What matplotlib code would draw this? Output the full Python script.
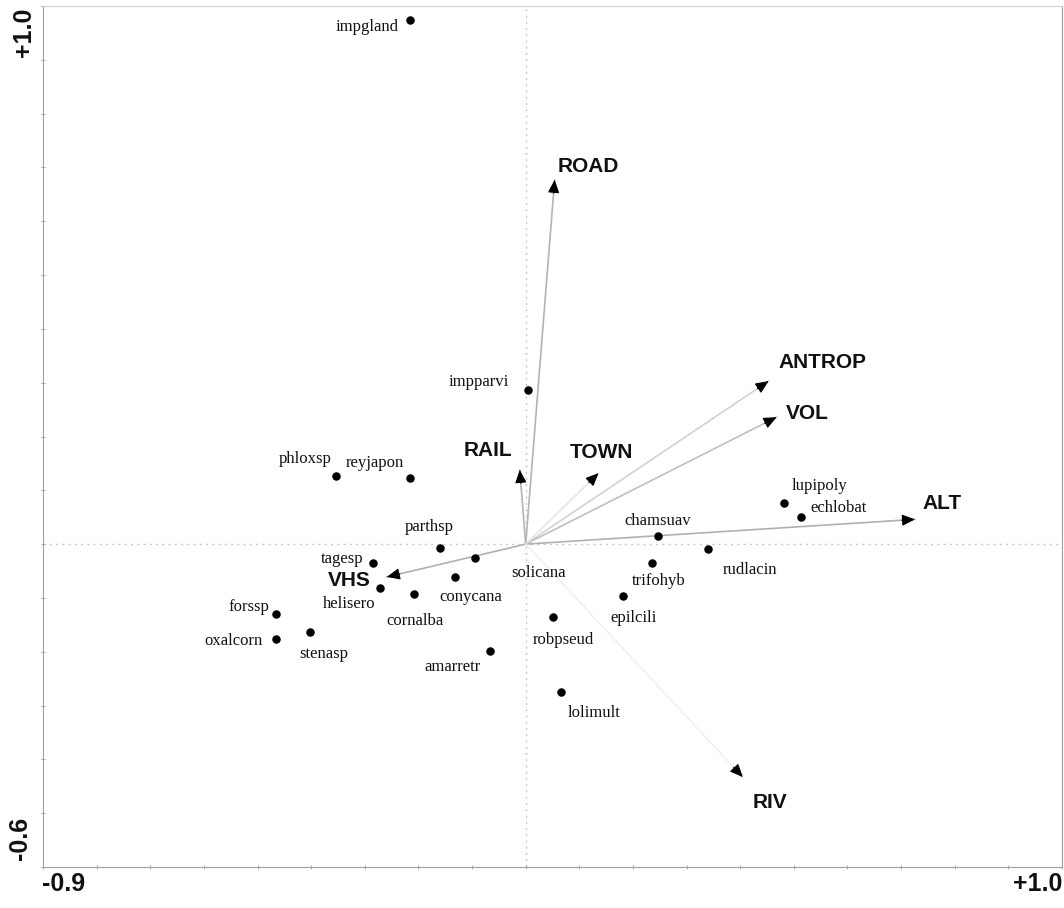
import numpy as np
import matplotlib.pyplot as plt

# species scores (axis 1, axis 2)
species = ['impgland', 'impparvi', 'phloxsp', 'reyjapon', 'lupipoly', 'echlobat',
           'chamsuav', 'rudlacin', 'trifohyb', 'epilcili', 'robpseud', 'lolimult',
           'amarretr', 'solicana', 'conycana', 'parthsp', 'tagesp', 'helisero',
           'cornalba', 'forssp', 'oxalcorn', 'stenasp']
sp_x = [-0.215, 0.004, -0.354, -0.216, 0.481, 0.513,
        0.246, 0.340, 0.235, 0.181, 0.050, 0.065,
        -0.067, -0.095, -0.131, -0.159, -0.285, -0.271,
        -0.209, -0.466, -0.465, -0.403]
sp_y = [0.974, 0.286, 0.126, 0.123, 0.076, 0.050,
        0.015, -0.009, -0.035, -0.097, -0.136, -0.275,
        -0.199, -0.026, -0.061, -0.007, -0.035, -0.082,
        -0.093, -0.130, -0.177, -0.164]

# environmental variables (arrow tips)
env = ['ROAD', 'ANTROP', 'VOL', 'ALT', 'TOWN', 'RAIL', 'VHS', 'RIV']
env_x = [0.054, 0.453, 0.468, 0.726, 0.136, -0.011, -0.259, 0.405]
env_y = [0.677, 0.303, 0.236, 0.046, 0.132, 0.138, -0.061, -0.433]

# label offsets in pixels (layout only)
sp_off = {
    'impgland': (-43, -7), 'impparvi': (-49, 8), 'phloxsp': (-31, 17),
    'reyjapon': (-35, 15), 'lupipoly': (36, 17), 'echlobat': (38, 9),
    'chamsuav': (0, 15), 'rudlacin': (42, -21), 'trifohyb': (7, -18),
    'epilcili': (11, -22), 'robpseud': (11, -23), 'lolimult': (34, -21),
    'amarretr': (-37, -16), 'solicana': (64, -15), 'conycana': (15, -20),
    'parthsp': (-11, 21), 'tagesp': (-31, 4), 'helisero': (-31, -16),
    'cornalba': (1, -27), 'forssp': (-27, 7), 'oxalcorn': (-43, -2),
    'stenasp': (14, -22),
}
env_off = {
    'ROAD': (34, 13), 'ANTROP': (54, 19), 'VOL': (31, 4), 'ALT': (27, 16),
    'TOWN': (3, 21), 'RAIL': (-32, 19), 'VHS': (-37, -4), 'RIV': (27, -25),
}
env_col = {
    'ROAD': '#b4b4b4', 'ANTROP': '#d2d2d2', 'VOL': '#c0c0c0', 'ALT': '#b0b0b0',
    'TOWN': '#e6e6e6', 'RAIL': '#b4b4b4', 'VHS': '#b0b0b0', 'RIV': '#f0f0f0',
}

fig = plt.figure(figsize=(10.64, 9.08), dpi=100)
ax = fig.add_axes([43 / 1064, 1 - 867 / 908, 1019 / 1064, 861 / 908])
ax.set_xlim(-0.9, 1.0)
ax.set_ylim(-0.6, 1.0)

# zero lines
ax.axhline(0, color='#c8c8c8', lw=1, ls=(0, (1.5, 3)), zorder=0)
ax.axvline(0, color='#c8c8c8', lw=1, ls=(0, (1.5, 3)), zorder=0)

# arrows
for name, x, y in zip(env, env_x, env_y):
    ax.plot([0, x], [0, y], color=env_col[name], lw=1.2, zorder=1)
    L = np.hypot(x, y)
    back = 0.025 / L
    ax.annotate('', xy=(x, y), xytext=(x * (1 - back), y * (1 - back)),
                arrowprops=dict(arrowstyle='-|>,head_length=0.8,head_width=0.35',
                                color='black', lw=0.8, shrinkA=0, shrinkB=0),
                zorder=3)
    dx, dy = env_off[name]
    ax.annotate(name, xy=(x, y), xytext=(dx, dy), textcoords='offset pixels',
                ha='center', va='center', fontsize=15, fontweight='bold',
                family='Liberation Sans', color='#111111')

# species points
ax.scatter(sp_x, sp_y, s=26, color='black', zorder=4)
for name, x, y in zip(species, sp_x, sp_y):
    dx, dy = sp_off[name]
    ax.annotate(name, xy=(x, y), xytext=(dx, dy), textcoords='offset pixels',
                ha='center', va='center', fontsize=12,
                family='Liberation Serif', color='#111111')

# frame and ticks
for side, s in ax.spines.items():
    s.set_color('#d0d0d0' if side == 'top' else '#a0a0a0')
    s.set_linewidth(0.8)
ax.set_xticks(np.arange(-0.9, 1.001, 0.1))
ax.set_yticks(np.arange(-0.6, 1.001, 0.1))
ax.tick_params(direction='inout', length=3, width=0.6, color='#9a9a9a',
               labelbottom=False, labelleft=False)

# axis end labels
lab = dict(fontsize=18, fontweight='bold', family='Liberation Sans', color='#111111')
fig.text(42 / 1064, 1 - 884 / 908, '-0.9', ha='left', va='center', **lab)
fig.text(1062 / 1064, 1 - 884 / 908, '+1.0', ha='right', va='center', **lab)
fig.text(24 / 1064, 1 - 8 / 908, '+1.0', ha='center', va='top', rotation=90, **lab)
fig.text(20 / 1064, 1 - 860 / 908, '-0.6', ha='center', va='bottom', rotation=90, **lab)

fig.savefig('out.png', dpi=100)
